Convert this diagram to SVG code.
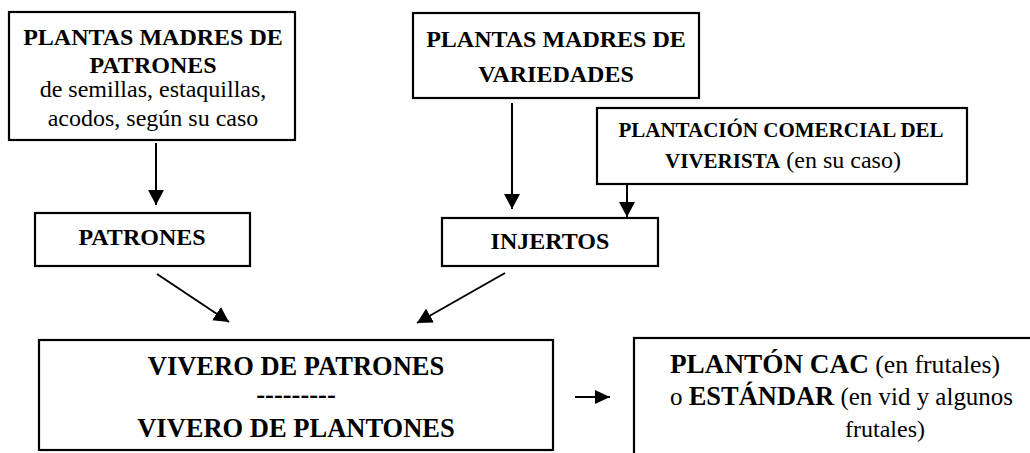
<svg xmlns="http://www.w3.org/2000/svg" width="1030" height="453" viewBox="0 0 1030 453">
<style>
.box{fill:#fff;stroke:#000;stroke-width:2.2}
.b{font-weight:bold}
.c{text-anchor:middle}
.conn{stroke:#000;stroke-width:2;fill:none}
</style>
<defs>
<marker id="ah" markerUnits="userSpaceOnUse" markerWidth="16" markerHeight="16" refX="15" refY="8" orient="auto" viewBox="0 0 16 16">
<path d="M0,0 L15,8 L0,16 z" fill="#000"/>
</marker>
<marker id="ahs" markerUnits="userSpaceOnUse" markerWidth="16" markerHeight="14" refX="15" refY="7" orient="auto" viewBox="0 0 16 14">
<path d="M0,0 L15,7 L0,14 z" fill="#000"/>
</marker>
</defs>
<rect width="1030" height="453" fill="#fff"/>

<g id="plantas-madres-patrones">
<rect class="box" x="9" y="12" width="286" height="128"/>
<text class="b c" font-family="Liberation Serif, Times New Roman, serif" x="153" y="45" font-size="24">PLANTAS MADRES DE</text>
<text class="b c" font-family="Liberation Serif, Times New Roman, serif" x="153" y="73" font-size="24">PATRONES</text>
<text class="c" font-family="Liberation Serif, Times New Roman, serif" x="153" y="97" font-size="24">de semillas, estaquillas,</text>
<text class="c" font-family="Liberation Serif, Times New Roman, serif" x="153" y="126" font-size="24">acodos, según su caso</text>
</g>

<g id="plantas-madres-variedades">
<rect class="box" x="413" y="13" width="286" height="85"/>
<text class="b c" font-family="Liberation Serif, Times New Roman, serif" x="556" y="47" font-size="24">PLANTAS MADRES DE</text>
<text class="b c" font-family="Liberation Serif, Times New Roman, serif" x="556" y="82" font-size="24">VARIEDADES</text>
</g>

<g id="plantacion-comercial">
<rect class="box" x="597" y="108" width="370" height="76"/>
<text class="b c" font-family="Liberation Serif, Times New Roman, serif" x="781" y="137" font-size="21">PLANTACIÓN COMERCIAL DEL</text>
<text class="c" font-family="Liberation Serif, Times New Roman, serif" x="783" y="168"><tspan class="b" font-size="21">VIVERISTA</tspan><tspan font-size="24"> (en su caso)</tspan></text>
</g>

<g id="patrones">
<rect class="box" x="35" y="213" width="215" height="53"/>
<text class="b c" font-family="Liberation Serif, Times New Roman, serif" x="142" y="245" font-size="24">PATRONES</text>
</g>

<g id="injertos">
<rect class="box" x="442" y="218" width="216" height="48"/>
<text class="b c" font-family="Liberation Serif, Times New Roman, serif" x="550" y="249" font-size="24">INJERTOS</text>
</g>

<g id="vivero">
<rect class="box" x="39" y="340" width="514" height="110"/>
<text class="b c" font-family="Liberation Serif, Times New Roman, serif" x="296" y="375" font-size="26.5">VIVERO DE PATRONES</text>
<text class="b c" font-family="Liberation Serif, Times New Roman, serif" x="296" y="403" font-size="26.5">---------</text>
<text class="b c" font-family="Liberation Serif, Times New Roman, serif" x="296" y="437" font-size="26.5">VIVERO DE PLANTONES</text>
</g>

<g id="planton-cac">
<rect class="box" x="634" y="338" width="420" height="140"/>
<text font-family="Liberation Serif, Times New Roman, serif" x="670" y="373" textLength="330" lengthAdjust="spacingAndGlyphs"><tspan class="b" font-size="26.5">PLANTÓN CAC</tspan><tspan font-size="25"> (en frutales)</tspan></text>
<text font-family="Liberation Serif, Times New Roman, serif" x="670" y="405" textLength="343" lengthAdjust="spacingAndGlyphs"><tspan font-size="25">o </tspan><tspan class="b" font-size="26.5">ESTÁNDAR</tspan><tspan font-size="25"> (en vid y algunos</tspan></text>
<text font-family="Liberation Serif, Times New Roman, serif" x="845" y="437" font-size="24">frutales)</text>
</g>

<g id="connectors">
<line class="conn" x1="156" y1="143" x2="156" y2="205" marker-end="url(#ah)"/>
<line class="conn" x1="512" y1="103" x2="512" y2="209" marker-end="url(#ah)"/>
<line class="conn" x1="627" y1="184" x2="627" y2="217" marker-end="url(#ah)"/>
<line class="conn" x1="157" y1="274" x2="229" y2="322" marker-end="url(#ah)"/>
<line class="conn" x1="505" y1="273" x2="417" y2="323" marker-end="url(#ah)"/>
<line class="conn" x1="575" y1="397" x2="610" y2="397" marker-end="url(#ahs)"/>
</g>
</svg>
